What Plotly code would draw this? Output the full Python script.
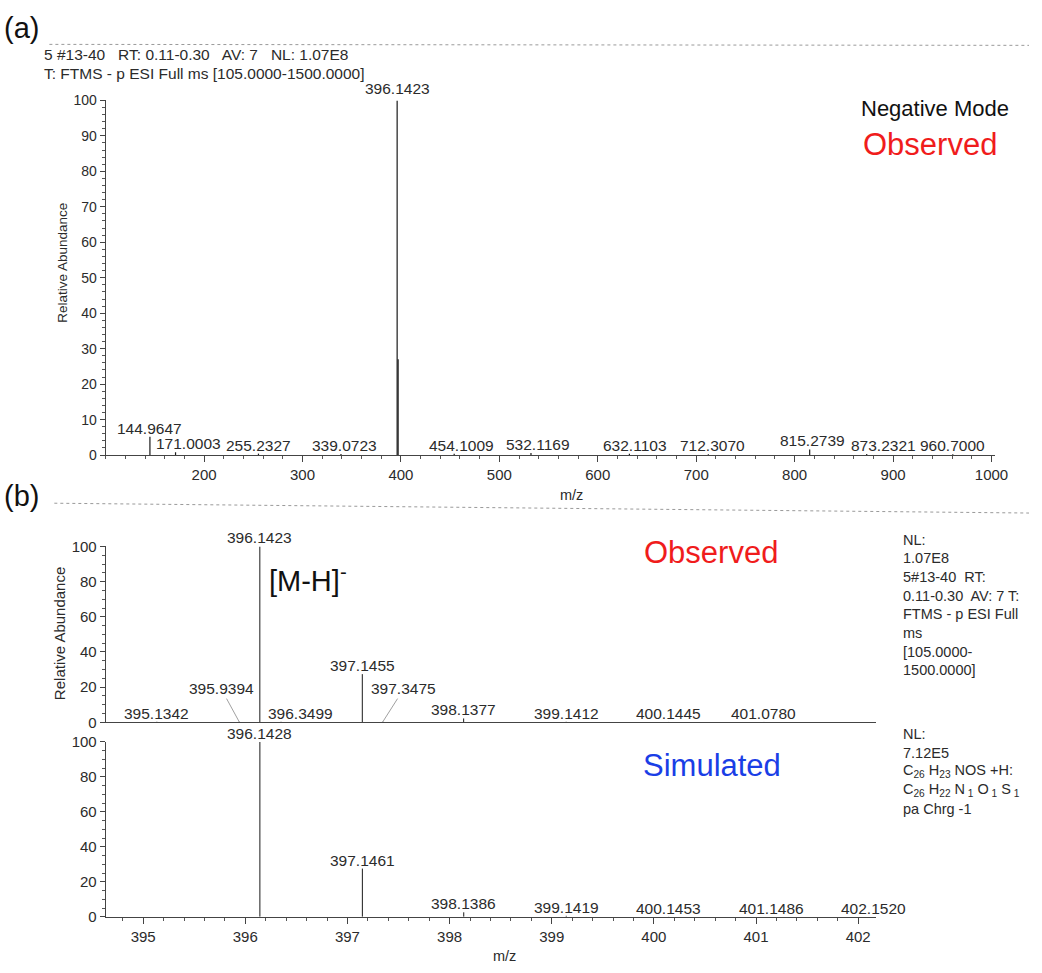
import plotly.graph_objects as go

W, H = 1042, 973

# ---------------- data ----------------
# (a) full-scan negative mode spectrum
a_mz = [144.9647, 171.0003, 255.2327, 339.0723, 396.1423, 397.1455, 454.1009,
        532.1169, 632.1103, 712.3070, 815.2739, 873.2321, 960.7000]
a_int = [5.2, 0.8, 0.4, 0.3, 100, 27.0, 0.4, 0.6, 0.4, 0.2, 1.6, 0.3, 0.2]
a_lab = ["144.9647", "171.0003", "255.2327", "339.0723", "396.1423", "",
         "454.1009", "532.1169", "632.1103", "712.3070", "815.2739", "873.2321", "960.7000"]

# (b) observed isotope pattern
ob_mz = [395.1342, 395.9394, 396.1423, 396.3499, 397.1455, 397.3475,
         398.1377, 399.1412, 400.1445, 401.0780]
ob_int = [0.3, 0.4, 100, 0.3, 27.4, 0.4, 2.2, 0.3, 0.2, 0.2]

# (b) simulated isotope pattern
sm_mz = [396.1428, 397.1461, 398.1386, 399.1419, 400.1453, 401.1486, 402.1520]
sm_int = [100, 27.6, 2.6, 0.6, 0.1, 0.05, 0.02]

a_xticks = [200, 300, 400, 500, 600, 700, 800, 900, 1000]
a_yticks = [0, 10, 20, 30, 40, 50, 60, 70, 80, 90, 100]
b_xticks = [395, 396, 397, 398, 399, 400, 401, 402]
b_yticks = [0, 20, 40, 60, 80, 100]

# ---------------- helpers ----------------
FONT = "Liberation Sans, Arial, sans-serif"
INK = "#2b2b2b"
LBL = 15.5


def px(x):
    return x / W


def py(y):
    return 1 - y / H


def sticks(mz, inten):
    xs, ys = [], []
    for m, v in zip(mz, inten):
        xs += [m, m, None]
        ys += [0, v, None]
    return xs, ys


fig = go.Figure()

xa, ya = sticks(a_mz, a_int)
fig.add_trace(go.Scatter(x=xa, y=ya, mode="lines", line=dict(color="#1a1a1a", width=1.2),
                         xaxis="x", yaxis="y", hoverinfo="skip", showlegend=False))
xo, yo = sticks(ob_mz, ob_int)
fig.add_trace(go.Scatter(x=xo, y=yo, mode="lines", line=dict(color="#1a1a1a", width=1),
                         xaxis="x2", yaxis="y2", hoverinfo="skip", showlegend=False))
xs_, ys_ = sticks(sm_mz, sm_int)
fig.add_trace(go.Scatter(x=xs_, y=ys_, mode="lines", line=dict(color="#1a1a1a", width=1),
                         xaxis="x3", yaxis="y3", hoverinfo="skip", showlegend=False))

ann = []


def text(x, y, s, size=14, color=INK, xanchor="left", yanchor="middle", angle=0):
    ann.append(dict(x=px(x), y=py(y), xref="paper", yref="paper", text=s, showarrow=False,
                    xanchor=xanchor, yanchor=yanchor, textangle=angle,
                    font=dict(family=FONT, size=size, color=color)))


# peak labels (a)
a_shift = {"171.0003": 13, "339.0723": 4, "454.1009": 7, "532.1169": 7, "632.1103": 6,
           "712.3070": 4, "815.2739": 3, "873.2321": 17}
for m, v, s in zip(a_mz, a_int, a_lab):
    if not s:
        continue
    ann.append(dict(x=m, y=v, xref="x", yref="y", text=s, showarrow=False,
                    xanchor="center", yanchor="bottom", xshift=a_shift.get(s, 0),
                    yshift=1 if v >= 100 else -2,
                    font=dict(family=FONT, size=LBL, color=INK)))

# peak labels (b) observed
ob_shift = {"396.3499": 19}
ob_arrow = {"395.9394": (-18, -33), "397.3475": (21, -33)}
for m, v in zip(ob_mz, ob_int):
    s = f"{m:.4f}"
    if s in ob_arrow:
        ax, ay = ob_arrow[s]
        ann.append(dict(x=m, y=v, xref="x2", yref="y2", text=s, showarrow=True,
                        arrowhead=0, arrowwidth=0.8, arrowcolor="#888", ax=ax, ay=ay,
                        standoff=0, font=dict(family=FONT, size=LBL, color=INK)))
    else:
        ann.append(dict(x=m, y=v, xref="x2", yref="y2", text=s, showarrow=False,
                        xanchor="center", yanchor="bottom", xshift=ob_shift.get(s, 0), yshift=-2,
                        font=dict(family=FONT, size=LBL, color=INK)))

for m, v in zip(sm_mz, sm_int):
    s = f"{m:.4f}"
    ann.append(dict(x=m, y=v, xref="x3", yref="y3", text=s, showarrow=False,
                    xanchor="center", yanchor="bottom", yshift=-2,
                    font=dict(family=FONT, size=LBL, color=INK)))

# panel letters and headers
text(2, 19, "(a)", size=29, color="#111")
text(2, 496, "(b)", size=29, color="#111")
text(43, 46, "5 #13-40\u00a0\u00a0 RT: 0.11-0.30\u00a0\u00a0 AV: 7\u00a0\u00a0 NL: 1.07E8", size=15.5)
text(43, 66, "T: FTMS - p ESI Full ms [105.0000-1500.0000]", size=15.5)
text(947, 101, "Negative Mode", size=22, color="#111", xanchor="center")
text(942, 138, "Observed", size=31, color="#f01c1c", xanchor="center")
text(720, 553, "Observed", size=31, color="#f01c1c", xanchor="center")
text(721, 770, "Simulated", size=31, color="#1a3ee6", xanchor="center")
text(270, 580, "[M-H]<sup>-</sup>", size=29, color="#111")

# axis titles
text(565, 495, "m/z", size=14.5)
text(497, 964, "m/z", size=14.5)
text(63, 258, "Relative Abundance", size=13.5, xanchor="center", angle=-90)
text(61, 636, "Relative Abundance", size=15, xanchor="center", angle=-90)

# right-hand info text (b)
info_obs = ["NL:", "1.07E8", "5#13-40\u00a0 RT:", "0.11-0.30\u00a0 AV: 7 T:", "FTMS - p ESI Full",
            "ms", "[105.0000-", "1500.0000]"]
for i, s in enumerate(info_obs):
    text(912, 540 + i * 19, s, size=14.5)
info_sim = ["NL:", "7.12E5", "C<sub>26</sub> H<sub>23</sub> NOS +H:",
            "C<sub>26</sub> H<sub>22</sub> N<sub> 1</sub> O<sub> 1</sub> S<sub> 1</sub>", "pa Chrg -1"]
for i, s in enumerate(info_sim):
    text(912, 738 + i * 19, s, size=14.5)

# dotted rules
shapes = [
    dict(type="line", xref="paper", yref="paper", x0=px(50), x1=1, y0=py(36), y1=py(37),
         line=dict(color="#9a9a9a", width=1, dash="dot")),
    dict(type="line", xref="paper", yref="paper", x0=px(55), x1=1, y0=py(503), y1=py(513),
         line=dict(color="#9a9a9a", width=1, dash="dot")),
]

TF = dict(family=FONT, size=15, color=INK)
axis_common = dict(showgrid=False, zeroline=False, showline=True, linecolor="#444", linewidth=1,
                   ticks="outside", tickcolor="#444", ticklen=5, tickwidth=1, tickfont=TF)

fig.update_layout(
    width=W, height=H, margin=dict(l=0, r=0, t=0, b=0),
    paper_bgcolor="white", plot_bgcolor="white", showlegend=False,
    annotations=ann, shapes=shapes,
    xaxis=dict(axis_common, domain=[px(107), px(1008)], range=[100, 1004], anchor="y",
               tickvals=a_xticks, ticklen=6,
               minor=dict(dtick=20, tick0=0, ticks="outside", ticklen=3, tickcolor="#555")),
    yaxis=dict(axis_common, domain=[py(454), py(93)], range=[0, 100], anchor="x",
               tickvals=a_yticks, tickfont=dict(family=FONT, size=14, color=INK),
               minor=dict(dtick=2, tick0=0, ticks="outside", ticklen=3, tickcolor="#555")),
    xaxis2=dict(axis_common, domain=[px(107), px(887)], range=[394.633, 402.174], anchor="y2",
                ticks="", showticklabels=False, tickvals=[]),
    yaxis2=dict(axis_common, domain=[py(726), py(547)], range=[0, 100], anchor="x2",
                tickvals=b_yticks,
                minor=dict(dtick=5, tick0=0, ticks="outside", ticklen=3, tickcolor="#555")),
    xaxis3=dict(axis_common, domain=[px(107), px(887)], range=[394.633, 402.174], anchor="y3",
                tickvals=b_xticks, ticklen=6,
                minor=dict(dtick=0.2, tick0=0, ticks="outside", ticklen=3, tickcolor="#555")),
    yaxis3=dict(axis_common, domain=[py(924), py(746)], range=[0, 100], anchor="x3",
                tickvals=b_yticks,
                minor=dict(dtick=5, tick0=0, ticks="outside", ticklen=3, tickcolor="#555")),
)

fig.write_html("out.html")
